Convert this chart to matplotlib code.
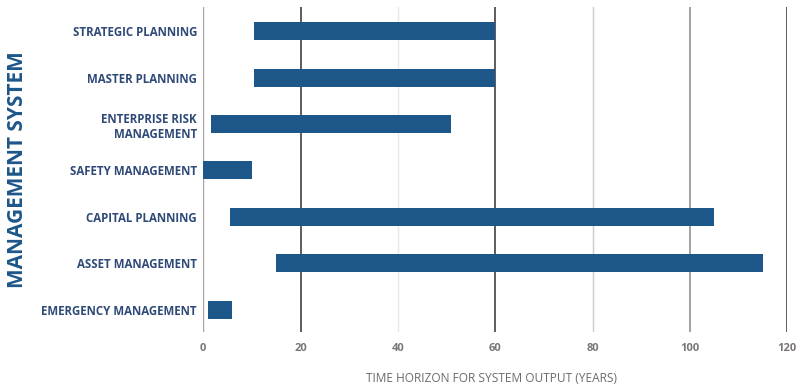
import matplotlib
matplotlib.use("Agg")
import matplotlib.pyplot as plt

categories = ["STRATEGIC PLANNING", "MASTER PLANNING", "ENTERPRISE RISK\nMANAGEMENT",
              "SAFETY MANAGEMENT", "CAPITAL PLANNING", "ASSET MANAGEMENT",
              "EMERGENCY MANAGEMENT"]
starts = [10.5, 10.5, 1.5, 0, 5.5, 15, 1]
ends = [60, 60, 51, 10, 105, 115, 6]
xticks = [0, 20, 40, 60, 80, 100, 120]
grid_colors = ["#a9a4a6", "#5f5a5c", "#ebe8e9", "#5f5a5c", "#cfcacb", "#8d8789", "#5f5a5c"]
grid_widths = [1.0, 1.4, 1.0, 1.4, 1.0, 1.1, 1.4]

plt.rcParams['font.family'] = ['Open Sans', 'DejaVu Sans']

fig = plt.figure(figsize=(8.0, 3.89), dpi=100)
ax = fig.add_axes([0.254, 0.1465, 0.73, 0.8355])

bar_color = "#1d5689"
ypos = list(range(len(categories)))
widths = [e - s for s, e in zip(starts, ends)]

for x, c, w in zip(xticks, grid_colors, grid_widths):
    ax.axvline(x, color=c, linewidth=w, zorder=1)

ax.barh(ypos, widths, left=starts, height=0.39, color=bar_color, zorder=2)

ax.set_xlim(0, 120)
ax.set_ylim(6.48, -0.52)
ax.set_xticks(xticks)
ax.set_xticklabels([str(t) for t in xticks], color="#7a7576", fontsize=8, fontweight="bold")
ax.set_yticks(ypos)
ax.set_yticklabels(categories, color="#2f4a78", fontsize=8.3, fontweight="bold",
                   linespacing=1.2)
ax.tick_params(axis="both", length=0)
ax.tick_params(axis="y", pad=4.5)
ax.tick_params(axis="x", pad=8)
for sp in ax.spines.values():
    sp.set_visible(False)

fig.text(491 / 800, 1 - 378 / 389, "TIME HORIZON FOR SYSTEM OUTPUT (YEARS)", ha="center",
         va="center", color="#6e696a", fontsize=8.6)
fig.text(18 / 800, 1 - 170 / 389, "MANAGEMENT SYSTEM", rotation=90, ha="center",
         va="center", color=bar_color, fontsize=15, fontweight="bold")

fig.savefig("out.png", dpi=100, facecolor="white")
